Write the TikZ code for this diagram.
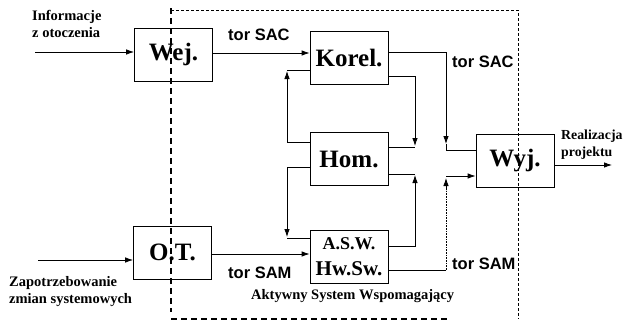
\documentclass[tikz,border=0pt]{standalone}
\usepackage{fontspec}
\setmainfont{Liberation Serif}
\newfontfamily\torfont{Liberation Sans}
\usetikzlibrary{arrows.meta,calc}
\begin{document}
\begin{tikzpicture}[x=1pt,y=-1pt,
 box/.style={draw,line width=0.8pt,minimum width=78pt,minimum height=53pt,inner sep=0pt,font=\fontsize{25}{25}\selectfont\bfseries},
 lbl/.style={inner sep=0pt,anchor=base west,align=left,font=\fontsize{14.5}{16.5}\selectfont\bfseries},
 tor/.style={inner sep=0pt,anchor=base west,font=\torfont\bfseries\fontsize{16.5}{18}\selectfont},
 conn/.style={line width=0.8pt},
 arr/.style={conn,-{Latex[length=8pt,width=5.5pt]}},
 bnd/.style={line width=1.6pt,dash pattern=on 6pt off 4pt},
 dotb/.style={line width=1pt,dash pattern=on 2.5pt off 2.5pt}]
\useasboundingbox (0,0) rectangle (625,322);

% boxes
\node[box] (wej) at (173.5,54.5) {Wej.};
\node[box] (korel) at (349,58) {Korel.};
\node[box] (hom) at (349,159) {Hom.};
\node[box,align=center] (asw) at (349,257) {\fontsize{18}{20}\selectfont A.S.W.\\[1pt]\fontsize{21}{21}\selectfont Hw.Sw.};
\node[box] (ot) at (172.5,252.5) {O.T.};
\node[box] (wyj) at (515,161) {Wyj.};

% labels (base = baseline of the last line)
\node[lbl] (linfo) at (32,37) {Informacje\\z otoczenia};
\node[lbl] (lzap) at (9,303) {Zapotrzebowanie\\zmian systemowych};
\node[lbl,font=\fontsize{13.8}{16.5}\selectfont\bfseries] (lreal) at (561,156) {Realizacja\\projektu};
\node[lbl] (lakt) at (251,299) {Aktywny System Wspomagający};
\node[tor] (tsac1) at (228,40) {tor SAC};
\node[tor] (tsac2) at (452,67) {tor SAC};
\node[tor] (tsam1) at (228,278) {tor SAM};
\node[tor] (tsam2) at (452,269) {tor SAM};

% system boundary
\draw[bnd] (171,8) -- (171,312);
\draw[bnd] (171,319) -- (447,319);
\draw[dotb] (171,10) -- (518,10) -- (518,319);

% coordinates
\coordinate (in1) at (35,52);
\coordinate (t1) at (220,53);
\coordinate (kA) at (446,52);
\coordinate (kAt) at (446,144);
\coordinate (kB) at (446,150);
\coordinate (kC) at (415,76);
\coordinate (kCt) at (415,146);
\coordinate (hC) at (415,147);
\coordinate (aC) at (415,246);
\coordinate (aCt) at (415,175);
\coordinate (hD) at (415,174);
\coordinate (h1) at (287,142);
\coordinate (h1t) at (287,71);
\coordinate (k1) at (287,70);
\coordinate (h2) at (287,167);
\coordinate (h2t) at (287,237);
\coordinate (a2) at (287,238);
\coordinate (o1) at (220,254);
\coordinate (in2) at (38,260);
\coordinate (s1) at (446,270);
\coordinate (s1m) at (446,190);
\coordinate (s1t) at (446,178);
\coordinate (w2) at (446,176);
\coordinate (out) at (612,165);

% connectors
\draw[arr] (in1) -- (in1 -| wej.west);
\draw[arr] (wej.east |- t1) -- (korel.west |- t1);
\draw[arr] (korel.east |- kA) -- (kA) -- (kAt);
\draw[conn] (kAt) -- (kB) -- (kB -| wyj.west);
\draw[arr] (korel.east |- kC) -- (kC) -- (kCt);
\draw[conn] (hom.east |- hC) -- (hC);
\draw[arr] (asw.east |- aC) -- (aC) -- (aCt);
\draw[conn] (hom.east |- hD) -- (hD);
\draw[arr] (hom.west |- h1) -- (h1) -- (h1t);
\draw[conn] (k1) -- (korel.west |- k1);
\draw[arr] (hom.west |- h2) -- (h2) -- (h2t);
\draw[conn] (a2) -- (asw.west |- a2);
\draw[arr] (ot.east |- o1) -- (asw.west |- o1);
\draw[arr] (in2) -- (in2 -| ot.west);
\draw[conn] (asw.east |- s1) -- (s1);
\draw[line width=0.6pt,densely dotted] (s1) -- (s1m);
\draw[arr] (s1m) -- (s1t);
\draw[arr] (w2) -- (w2 -| wyj.west);
\draw[arr] (wyj.east |- out) -- (out);
\end{tikzpicture}
\end{document}
